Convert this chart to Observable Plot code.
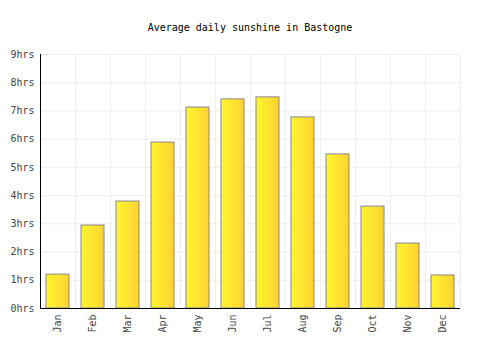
<!DOCTYPE html>
<html>
<head>
<meta charset="utf-8">
<script src="https://cdn.jsdelivr.net/npm/d3@7"></script>
<script src="https://cdn.jsdelivr.net/npm/@observablehq/plot@0.6"></script>
<style>
  html, body { margin: 0; padding: 0; background: #fff; }
  #wrap { width: 500px; height: 350px; position: relative; }
  #title { position: absolute; top: 0; left: 0; width: 500px; height: 40px;
           text-align: center; font: 10px "DejaVu Sans Mono", monospace; line-height: 56px; color: #000; }
  #chart { position: absolute; top: 40px; left: 0; }
</style>
</head>
<body>
<div id="wrap">
  <div id="title">Average daily sunshine in Bastogne</div>
  <div id="chart"></div>
</div>
<script>
const months = ["Jan","Feb","Mar","Apr","May","Jun","Jul","Aug","Sep","Oct","Nov","Dec"];
const sunshine = [1.2, 2.94, 3.79, 5.88, 7.12, 7.41, 7.48, 6.77, 5.46, 3.61, 2.3, 1.17];
const yTicks = [0,1,2,3,4,5,6,7,8,9];

const data = months.map((m, i) => ({month: m, value: sunshine[i]}));

const gradientDefs = () => {
  const ns = "http://www.w3.org/2000/svg";
  const defs = document.createElementNS(ns, "defs");
  const lg = document.createElementNS(ns, "linearGradient");
  lg.setAttribute("id", "barGrad");
  lg.setAttribute("x1", "0"); lg.setAttribute("x2", "1");
  lg.setAttribute("y1", "0"); lg.setAttribute("y2", "0");
  [["0%", "#fff72e"], ["100%", "#ffd133"]].forEach(([o, c]) => {
    const s = document.createElementNS(ns, "stop");
    s.setAttribute("offset", o); s.setAttribute("stop-color", c);
    lg.appendChild(s);
  });
  defs.appendChild(lg);
  return defs;
};

const plot = Plot.plot({
  width: 500,
  height: 310,
  marginTop: 14,
  marginBottom: 42,
  marginLeft: 40,
  marginRight: 40,
  style: {fontFamily: "'DejaVu Sans Mono', monospace", fontSize: "10px", color: "#444", background: "#fff"},
  x: {domain: months, paddingInner: 0.34, paddingOuter: 0.17, label: null, tickSize: 0, tickPadding: 6, tickRotate: -90},
  y: {domain: [0, 9], ticks: yTicks, label: null, tickSize: 0, tickPadding: 6, tickFormat: d => d + "hrs"},
  marks: [
    gradientDefs,
    Plot.gridY(yTicks, {stroke: "#eee", strokeOpacity: 1}),
    Plot.ruleX(months, {x: d => d, dx: 17.5, stroke: "#eee", strokeOpacity: 1}),
    Plot.barY(data, {x: "month", y: "value", fill: "url(#barGrad)", stroke: "#888", strokeWidth: 1}),
    Plot.ruleX([0], {x: () => months[0], dx: -17.5, stroke: "#000"}),
    Plot.ruleY([0], {stroke: "#000"})
  ]
});
document.getElementById("chart").appendChild(plot);
</script>
</body>
</html>
